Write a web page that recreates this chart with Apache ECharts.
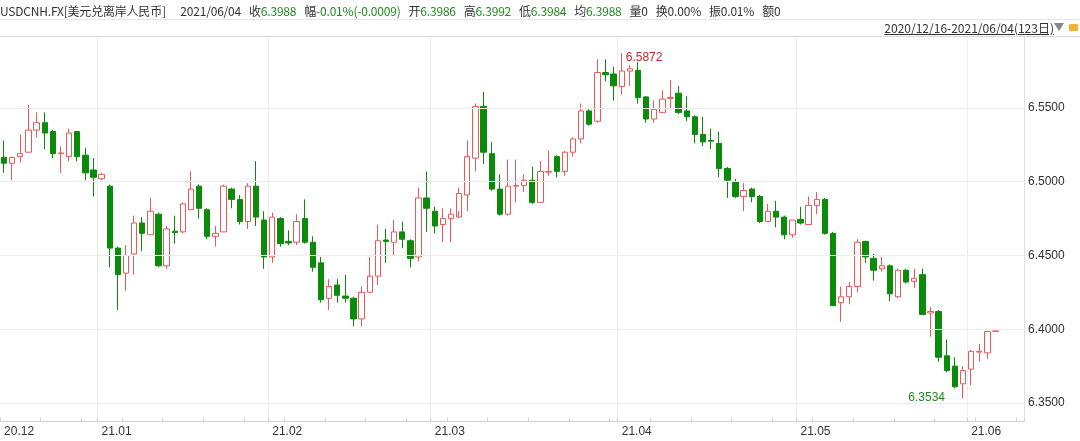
<!DOCTYPE html>
<html><head><meta charset="utf-8">
<script src="https://cdn.jsdelivr.net/npm/echarts@6/dist/echarts.min.js"></script>
<style>
html,body{margin:0;padding:0;background:#fff;font-family:"Noto Sans CJK SC","Noto Sans",sans-serif;}
#hdr{position:absolute;left:0;top:2px;font-size:12px;color:#333;white-space:nowrap;letter-spacing:-0.2px}
#hdr span{margin-right:8px}
#hdr b{font-weight:normal;color:#1e8c1e}
#sep1{position:absolute;left:0;top:19px;width:1080px;height:1px;background:#e6e6e6}
#rng{position:absolute;right:26px;top:19px;font-size:12px;color:#333;text-decoration:underline}
#tri{position:absolute;right:16px;top:23px;width:0;height:0;border-left:5px solid transparent;border-right:5px solid transparent;border-top:8px solid #888}
#lock{position:absolute;right:2px;top:24px;width:9px;height:7px;background:#f2b233;border-radius:1px}
#sep2{position:absolute;left:0;top:36px;width:1080px;height:1px;background:#d8d8d8}
#c{position:absolute;left:0;top:0;width:1080px;height:441px}
</style></head><body>
<div id="c"></div>
<div id="hdr"><span>USDCNH.FX[美元兑离岸人民币]</span> <span style="margin-left:4px">2021/06/04</span><span>收<b>6.3988</b></span><span>幅<b>-0.01%(-0.0009)</b></span><span>开<b>6.3986</b></span><span>高<b>6.3992</b></span><span>低<b>6.3984</b></span><span>均<b>6.3988</b></span><span>量0</span><span>换0.00%</span><span>振0.01%</span><span>额0</span></div>
<div id="sep1"></div>
<div id="rng">2020/12/16-2021/06/04(123日)</div>
<div id="tri"></div><div id="lock"></div>
<div id="sep2"></div>
<script>
const opens=[6.5165,6.5125,6.517,6.520,6.535,6.540,6.534,6.519,6.517,6.534,6.518,6.508,6.502,6.497,6.455,6.438,6.451,6.472,6.464,6.478,6.443,6.4665,6.466,6.481,6.497,6.481,6.463,6.466,6.495,6.488,6.473,6.497,6.474,6.449,6.475,6.4595,6.459,6.475,6.459,6.445,6.421,6.430,
6.4225,6.421,6.407,6.425,6.436,6.4605,6.459,6.466,6.460,6.449,6.489,6.480,6.471,6.475,6.476,6.491,6.516,6.551,6.519,6.495,6.478,6.497,6.4975,6.501,6.486,6.5065,6.517,6.507,6.520,6.529,6.548,6.541,6.574,6.573,6.5645,6.575,6.5755,6.5575,6.5425,6.547,
6.5565,6.560,6.548,6.544,6.532,6.528,6.526,6.509,6.500,6.490,6.495,6.490,6.473,6.480,6.476,6.464,6.4745,6.471,6.484,6.488,6.465,6.418,6.422,6.429,6.4595,6.448,6.441,6.443,6.422,6.440,6.4325,6.437,6.411,6.412,6.382,6.375,6.363,6.373,6.3845,6.384,6.3986];
const closes=[6.5125,6.5165,6.519,6.535,6.540,6.533,6.519,6.5195,6.533,6.517,6.506,6.503,6.505,6.455,6.437,6.450,6.472,6.465,6.480,6.443,6.468,6.4655,6.485,6.495,6.482,6.463,6.465,6.497,6.488,6.473,6.497,6.476,6.449,6.476,6.458,6.4585,6.473,6.459,6.442,6.420,6.429,6.423,
6.421,6.407,6.425,6.436,6.460,6.4595,6.466,6.461,6.448,6.489,6.482,6.470,6.475,6.478,6.492,6.517,6.551,6.520,6.495,6.478,6.497,6.4975,6.501,6.486,6.507,6.507,6.507,6.520,6.529,6.548,6.539,6.574,6.5725,6.565,6.575,6.5765,6.557,6.5425,6.549,6.556,
6.557,6.547,6.544,6.532,6.527,6.5275,6.509,6.501,6.490,6.494,6.490,6.473,6.480,6.476,6.464,6.474,6.472,6.484,6.488,6.465,6.416,6.422,6.429,6.459,6.449,6.440,6.443,6.424,6.440,6.432,6.4345,6.410,6.412,6.381,6.372,6.361,6.372,6.385,6.385,6.3985,6.3988];
const lows=[6.506,6.501,6.513,6.520,6.530,6.522,6.516,6.506,6.514,6.514,6.501,6.490,6.501,6.442,6.413,6.426,6.437,6.453,6.464,6.442,6.441,6.458,6.465,6.481,6.475,6.461,6.456,6.466,6.482,6.471,6.468,6.470,6.441,6.445,6.456,6.457,6.457,6.458,6.439,6.418,6.413,6.418,
6.418,6.402,6.402,6.425,6.430,6.445,6.450,6.455,6.442,6.446,6.466,6.465,6.459,6.459,6.480,6.480,6.507,6.512,6.494,6.477,6.477,6.486,6.493,6.485,6.486,6.504,6.503,6.504,6.517,6.526,6.538,6.540,6.568,6.555,6.559,6.565,6.553,6.540,6.540,6.547,
6.549,6.546,6.541,6.526,6.524,6.522,6.503,6.489,6.489,6.480,6.486,6.472,6.473,6.469,6.461,6.462,6.471,6.471,6.478,6.464,6.416,6.405,6.417,6.425,6.445,6.433,6.439,6.419,6.421,6.431,6.428,6.410,6.395,6.378,6.371,6.360,6.3534,6.362,6.378,6.380,6.3984];
const highs=[6.528,6.517,6.532,6.552,6.547,6.547,6.535,6.524,6.536,6.534,6.523,6.516,6.506,6.498,6.456,6.457,6.477,6.476,6.489,6.479,6.470,6.477,6.486,6.507,6.498,6.482,6.470,6.498,6.496,6.491,6.499,6.514,6.480,6.479,6.476,6.467,6.478,6.488,6.463,6.449,6.434,6.434,
6.437,6.422,6.429,6.449,6.471,6.468,6.474,6.473,6.461,6.496,6.507,6.483,6.482,6.482,6.496,6.528,6.553,6.561,6.527,6.505,6.515,6.515,6.505,6.510,6.514,6.521,6.518,6.521,6.530,6.553,6.549,6.583,6.583,6.578,6.5872,6.579,6.581,6.558,6.555,6.562,
6.569,6.565,6.558,6.545,6.544,6.536,6.534,6.510,6.502,6.499,6.496,6.491,6.485,6.487,6.477,6.474,6.483,6.490,6.493,6.489,6.466,6.429,6.432,6.461,6.460,6.451,6.449,6.444,6.441,6.441,6.441,6.441,6.415,6.413,6.393,6.381,6.375,6.386,6.390,6.399,6.3992];
const yTicks=[6.3500,6.4000,6.4500,6.5000,6.5500];
// weekday dates 2020-12-16 .. 2021-06-04, plus 3 empty slots on the right
const dates=[];
for(let d=new Date(Date.UTC(2020,11,16)); d<=new Date(Date.UTC(2021,5,4)); d.setUTCDate(d.getUTCDate()+1)){
  const w=d.getUTCDay(); if(w===0||w===6) continue; dates.push(d.toISOString().slice(0,10));
}
const monthStart=dates.map((s,i)=>i===0||s.slice(5,7)!==dates[i-1].slice(5,7));
const cats=dates.concat(['','','']);
const data=opens.map((o,i)=>[o,closes[i],lows[i],highs[i]]);
let hi=0,lo=0;highs.forEach((v,i)=>{if(v>highs[hi])hi=i;});lows.forEach((v,i)=>{if(v<lows[lo])lo=i;});
const lab=i=>{const s=dates[i];if(!s)return '';return (s.slice(2,4)+'.'+s.slice(5,7));};
const chart=echarts.init(document.getElementById('c'));
chart.setOption({
 animation:false,
 grid:{left:0,right:56,top:37,bottom:20},
 xAxis:{type:'category',data:cats,boundaryGap:true,
  axisLine:{lineStyle:{color:'#d0d0d0'}},
  axisTick:{show:true,inside:true,length:3,lineStyle:{color:'#d0d0d0'},interval:(i)=>i%5===0||monthStart[i]},
  axisLabel:{interval:(i)=>!!monthStart[i],formatter:(v,i)=>lab(i),align:'left',color:'#333',fontSize:12,margin:5},
  splitLine:{show:true,interval:(i)=>!!monthStart[i]&&i>0,lineStyle:{color:'#ececec'}}},
 yAxis:{type:'value',position:'right',min:6.3378,max:6.5981,axisLabel:{show:false},splitLine:{show:false},axisLine:{show:true,lineStyle:{color:'#e0e0e0'}},axisTick:{show:false}},
 series:[{type:'candlestick',data:data,barWidth:'72%',
  itemStyle:{color:'#ffffff',color0:'#0a8c0a',borderColor:'#e8595b',borderColor0:'#0a8c0a',borderWidth:1},
  markLine:{silent:true,symbol:'none',animation:false,
   lineStyle:{color:'#ececec',type:'solid',width:1},
   label:{position:'end',formatter:(p)=>p.value.toFixed(4),color:'#333',fontSize:12,distance:4},
   data:yTicks.map(v=>({yAxis:v}))},
  markPoint:{symbol:'circle',symbolSize:0,animation:false,
   data:[
    {coord:[hi,highs[hi]],label:{show:true,formatter:highs[hi].toFixed(4),position:'right',distance:4,offset:[0,5],color:'#c0282b',fontSize:12}},
    {coord:[lo,lows[lo]],label:{show:true,formatter:lows[lo].toFixed(4),position:'left',distance:18,color:'#1e8c1e',fontSize:12}}
   ]}
 }]
});
</script></body></html>
